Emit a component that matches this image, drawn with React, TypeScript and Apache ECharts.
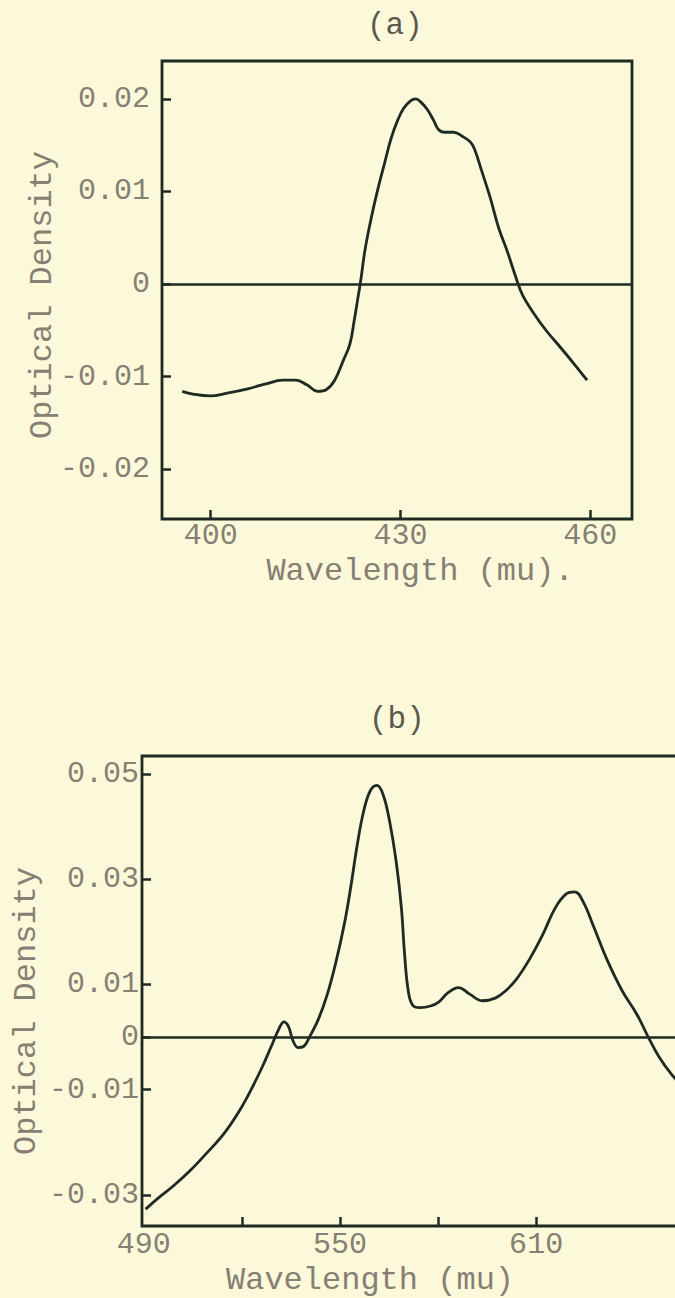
import React, { useEffect, useRef } from "react";
import * as echarts from "echarts";

// Spectrum (a): difference optical density, 395–460 mu
const waveA = [395.5, 397.2, 399.9, 402.6, 406.0, 408.7, 411.4, 413.5, 415.2, 416.9, 418.3, 419.6, 421.0, 422.0, 422.7, 423.2, 423.7, 424.4, 425.4, 426.4, 427.5, 428.5, 429.5, 430.5, 431.6, 432.4, 433.3, 434.3, 435.3, 436.0, 437.0, 438.4, 439.7, 441.1, 441.8, 442.8, 444.2, 445.5, 446.9, 448.2, 449.3, 451.0, 453.0, 455.1, 457.4, 459.5];
const densityA = [-0.0116, -0.0119, -0.0121, -0.0118, -0.0113, -0.0108, -0.0104, -0.0104, -0.0109, -0.0116, -0.0114, -0.0104, -0.0082, -0.0065, -0.0039, -0.0018, 0.0003, 0.0037, 0.0072, 0.0102, 0.0131, 0.0157, 0.0176, 0.019, 0.0198, 0.02, 0.0196, 0.0188, 0.0176, 0.0167, 0.0164, 0.0164, 0.016, 0.0153, 0.0144, 0.0123, 0.0093, 0.0061, 0.0035, 0.0008, -0.0012, -0.0031, -0.005, -0.0067, -0.0086, -0.0104];

// Spectrum (b): difference optical density, 490–655 mu
const waveB = [490.6, 494.8, 498.7, 504.0, 509.2, 514.5, 519.1, 523.1, 526.4, 529.0, 531.4, 532.9, 534.3, 535.6, 537.2, 538.9, 540.8, 543.5, 546.1, 548.7, 551.4, 553.3, 555.3, 557.3, 559.3, 561.3, 563.2, 565.2, 567.2, 568.8, 569.8, 570.9, 572.2, 574.4, 577.7, 580.3, 583.0, 586.3, 589.6, 593.5, 597.5, 600.7, 604.0, 608.0, 611.9, 615.9, 619.2, 621.8, 624.4, 627.7, 631.6, 636.3, 640.9, 644.2, 647.5, 651.4, 654.6];
const densityB = [-0.0327, -0.0304, -0.0285, -0.0255, -0.0221, -0.0184, -0.0142, -0.0097, -0.0055, -0.0018, 0.0016, 0.0029, 0.002, -0.0006, -0.002, -0.0018, 0.0001, 0.0035, 0.008, 0.014, 0.0216, 0.0284, 0.0365, 0.043, 0.0468, 0.0478, 0.0461, 0.041, 0.0334, 0.0246, 0.0156, 0.0088, 0.0061, 0.0056, 0.0059, 0.0067, 0.0084, 0.0094, 0.0082, 0.0069, 0.0074, 0.0088, 0.011, 0.0148, 0.0193, 0.0246, 0.0272, 0.0276, 0.0257, 0.0208, 0.0148, 0.0088, 0.0042, 0.0001, -0.0037, -0.0071, -0.0092];

// Axis ticks and labels
const yTicksA = [0.02, 0.01, 0, -0.01, -0.02];
const xTicksA = [400, 430, 460];
const yTicksB = [0.05, 0.03, 0.01, 0, -0.01, -0.03];
const xLabelsB = [490, 550, 610];
const xTicksB = [520, 550, 580, 610];

const INK = "#1f2a22";
const TYPE = "#877f73";
const PAPER = "#fbf9da";
const FONT = '"Liberation Mono", "DejaVu Sans Mono", monospace';

const fmtDensity = (v: number) => (Math.abs(v) < 1e-9 ? "0" : v.toFixed(2));

const zip = (xs: number[], ys: number[]) => xs.map((x, i) => [x, ys[i]]);

const zeroLine = {
  silent: true,
  symbol: ["none", "none"],
  label: { show: false },
  lineStyle: { color: INK, width: 2.5, type: "solid" },
  data: [{ yAxis: 0 }],
};

export default function App() {
  const ref = useRef<HTMLDivElement>(null);

  useEffect(() => {
    if (!ref.current) return;
    const chart = echarts.init(ref.current, null, { renderer: "svg" });

    const tickStyle = { show: true, inside: true, length: 9, lineStyle: { color: INK, width: 2.5 } };
    const labelStyle = { color: TYPE, fontFamily: FONT, fontSize: 30 };
    const nameStyle = { color: TYPE, fontFamily: FONT, fontSize: 32 };
    const hiddenLine = { show: false, onZero: false };
    const frame = { show: true, borderColor: INK, borderWidth: 2.8, backgroundColor: "transparent", outerBoundsMode: "none" };

    chart.setOption({
      animation: false,
      backgroundColor: PAPER,
      title: [
        { text: "(a)", left: 362, top: 5, textStyle: { color: "#5d5850", fontFamily: FONT, fontSize: 31, fontWeight: "normal" } },
        { text: "(b)", left: 364, top: 699, textStyle: { color: "#5d5850", fontFamily: FONT, fontSize: 31, fontWeight: "normal" } },
      ],
      grid: [
        { left: 162, top: 61, width: 470, height: 458, ...frame },
        { left: 142, top: 756, width: 540, height: 470, ...frame },
      ],
      xAxis: [
        {
          gridIndex: 0,
          type: "value",
          min: 392.3,
          max: 466.6,
          axisLine: hiddenLine,
          splitLine: { show: false },
          axisTick: { ...tickStyle, customValues: xTicksA },
          axisLabel: { ...labelStyle, margin: 2, customValues: xTicksA },
          name: "Wavelength (mu).",
          nameLocation: "middle",
          nameGap: 36,
          nameMoveOverlap: false,
          nameTextStyle: { ...nameStyle, padding: [0, 0, 0, 46] },
        },
        {
          gridIndex: 1,
          type: "value",
          min: 489.5,
          max: 654.6,
          axisLine: hiddenLine,
          splitLine: { show: false },
          axisTick: { ...tickStyle, customValues: xTicksB },
          axisLabel: { ...labelStyle, margin: 4, customValues: xLabelsB },
          name: "Wavelength (mu)",
          nameLocation: "middle",
          nameGap: 38,
          nameMoveOverlap: false,
          nameTextStyle: { ...nameStyle, padding: [0, 84, 0, 0] },
        },
      ],
      yAxis: [
        {
          gridIndex: 0,
          type: "value",
          min: -0.0254,
          max: 0.0241,
          axisLine: hiddenLine,
          splitLine: { show: false },
          axisTick: { ...tickStyle, customValues: yTicksA },
          axisLabel: { ...labelStyle, margin: 12, customValues: yTicksA, formatter: fmtDensity },
          name: "Optical Density",
          nameLocation: "middle",
          nameGap: 104,
          nameMoveOverlap: false,
          nameTextStyle: { ...nameStyle, padding: [0, 10, 0, 0] },
        },
        {
          gridIndex: 1,
          type: "value",
          min: -0.0359,
          max: 0.0534,
          axisLine: hiddenLine,
          splitLine: { show: false },
          axisTick: { ...tickStyle, customValues: yTicksB },
          axisLabel: { ...labelStyle, margin: 3, customValues: yTicksB, formatter: fmtDensity },
          name: "Optical Density",
          nameLocation: "middle",
          nameGap: 100,
          nameMoveOverlap: false,
          nameTextStyle: { ...nameStyle, padding: [0, 40, 0, 0] },
        },
      ],
      series: [
        {
          type: "line",
          xAxisIndex: 0,
          yAxisIndex: 0,
          data: zip(waveA, densityA),
          smooth: 0.4,
          showSymbol: false,
          lineStyle: { color: INK, width: 2.8 },
          markLine: zeroLine,
        },
        {
          type: "line",
          xAxisIndex: 1,
          yAxisIndex: 1,
          data: zip(waveB, densityB),
          smooth: 0.4,
          showSymbol: false,
          clip: true,
          lineStyle: { color: INK, width: 2.8 },
          markLine: zeroLine,
        },
      ],
    });

    return () => chart.dispose();
  }, []);

  return (
    <div
      ref={ref}
      style={{ position: "absolute", left: 0, top: 0, width: 675, height: 1298, background: PAPER }}
    />
  );
}
